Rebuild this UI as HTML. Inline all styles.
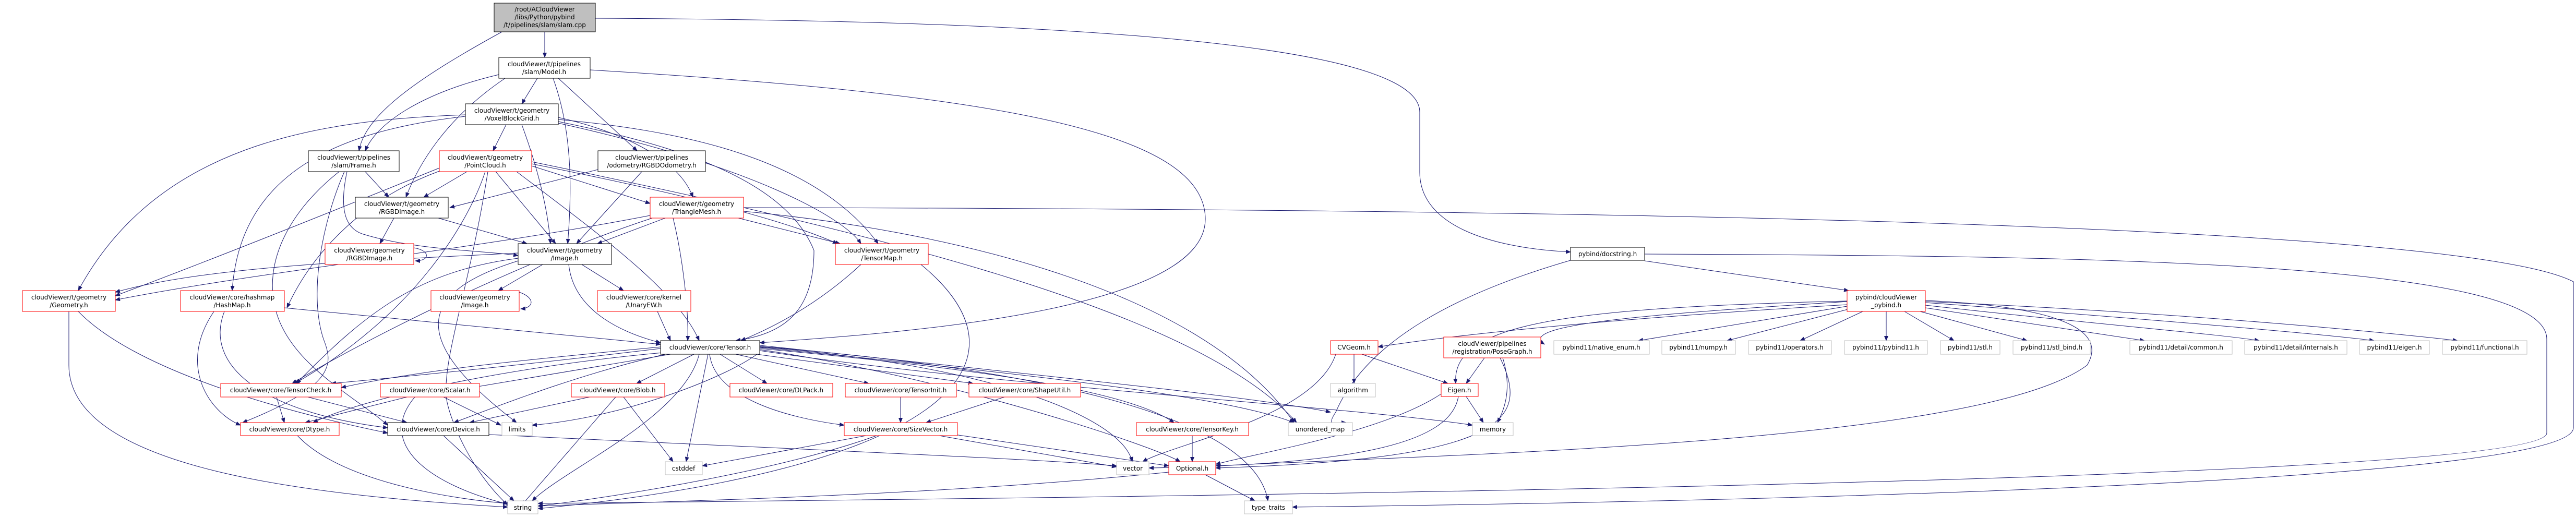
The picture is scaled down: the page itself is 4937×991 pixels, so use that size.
<!DOCTYPE html>
<html><head><meta charset="utf-8"><style>
html,body{margin:0;padding:0;background:#fff;}
svg{display:block;}
text{font-family:"DejaVu Sans","Liberation Sans",sans-serif;font-size:12px;fill:#000;text-anchor:middle;}
.b{fill:#fff;stroke:#000;stroke-width:1}
.r{fill:#fff;stroke:#f00;stroke-width:1}
.g{fill:#fff;stroke:#bfbfbf;stroke-width:1}
.e{fill:none;stroke:#191970;stroke-width:1;marker-end:url(#a)}
</style></head><body>
<svg width="4937" height="991" viewBox="0 0 4937 991" xmlns="http://www.w3.org/2000/svg">
<defs><marker id="a" markerWidth="10" markerHeight="8" refX="9" refY="4" orient="auto" markerUnits="userSpaceOnUse"><path d="M0,0 L10,4 L0,8 z" fill="#191970"/></marker></defs>
<g>
<!-- slam.cpp -->
<path class="e" d="M1044,61 L1044,110"/>
<path class="e" d="M962,61 C800,150 700,220 688,289"/>
<path class="e" d="M1141,35 C2300,40 2721,110 2721,215 L2721,330 C2721,430 2850,475 3010,483"/>
<!-- Model -->
<path class="e" d="M1030,150 L1000,199"/>
<path class="e" d="M956,143 C800,180 720,240 700,289"/>
<path class="e" d="M968,150 C850,230 800,320 778,378"/>
<path class="e" d="M1060,150 C1100,260 1095,380 1088,467"/>
<path class="e" d="M1070,150 L1221,289"/>
<path class="e" d="M1131,134 C1900,180 2310,250 2310,420 C2310,600 1700,640 1456,657"/>
<!-- VoxelBlockGrid -->
<path class="e" d="M970,239 L945,289"/>
<path class="e" d="M1000,239 C1030,320 1050,400 1055,467"/>
<path class="e" d="M892,220 C600,230 300,280 150,557"/>
<path class="e" d="M892,223 C650,250 460,330 445,557"/>
<path class="e" d="M1070,225 C1180,250 1300,300 1328,378"/>
<path class="e" d="M1070,229 C1300,250 1560,300 1683,467"/>
<path class="e" d="M1070,233 C1250,270 1500,330 1560,480 C1560,600 1500,640 1410,653"/>
<path class="e" d="M1070,236 C1450,320 1620,420 1650,467"/>
<!-- Frame -->
<path class="e" d="M700,329 L745,378"/>
<path class="e" d="M665,329 C650,400 660,440 700,450 C800,480 930,480 993,490"/>
<path class="e" d="M660,329 C620,420 590,560 620,650 C640,700 640,740 465,810"/>
<path class="e" d="M650,329 C560,400 500,500 530,600 C560,700 680,760 743,815"/>
<!-- PointCloud -->
<path class="e" d="M895,329 L812,378"/>
<path class="e" d="M950,329 L1065,467"/>
<path class="e" d="M1019,318 L1246,390"/>
<path class="e" d="M1019,314 C1300,370 1500,420 1605,467"/>
<path class="e" d="M990,329 C1150,450 1300,560 1340,653"/>
<path class="e" d="M842,322 C600,420 400,500 221,567"/>
<path class="e" d="M842,328 C700,380 600,480 550,590"/>
<path class="e" d="M930,329 C900,420 800,600 565,735"/>
<path class="e" d="M935,329 C900,550 850,680 855,760 C860,800 900,900 973,968"/>
<path class="e" d="M1019,310 C1700,450 2300,600 2485,810"/>
<!-- RGBDOdom -->
<path class="e" d="M1146,325 L862,398"/>
<path class="e" d="M1230,329 L1105,467"/>
<!-- t/RGBDImage -->
<path class="e" d="M755,418 L728,467"/>
<path class="e" d="M840,418 L1010,467"/>
<!-- g/RGBDImage self -->
<path class="e" d="M793,475 C825,480 825,500 796,500"/>
<!-- TriMesh -->
<path class="e" d="M1275,418 L1145,467"/>
<path class="e" d="M1415,418 L1610,467"/>
<path class="e" d="M1290,418 C1310,500 1320,600 1318,653"/>
<path class="e" d="M1246,413 C900,480 500,520 221,575"/>
<path class="e" d="M1250,418 C1000,500 700,650 560,735"/>
<path class="e" d="M1425,398 C2800,400 4700,420 4932,540 L4932,820 C4932,920 3500,960 2477,972"/>
<path class="e" d="M1425,405 C1800,440 2300,550 2480,810"/>
<!-- docstring -->
<path class="e" d="M3152,487 C4000,490 4881,500 4881,650 L4881,830 C4881,920 2500,950 1031,965"/>
<path class="e" d="M3152,500 L3543,557"/>
<path class="e" d="M3010,499 C2800,560 2620,650 2560,790 C2540,820 2560,810 2580,810"/>
<!-- pybind -->
<path class="e" d="M3540,578 C3200,600 2900,620 2960,660"/>
<path class="e" d="M3540,584 C3100,610 2800,640 2641,665"/>
<path class="e" d="M3540,577 C3000,590 2780,620 2790,735"/>
<path class="e" d="M3540,587 L3140,653"/>
<path class="e" d="M3545,592 L3310,653"/>
<path class="e" d="M3570,597 L3450,653"/>
<path class="e" d="M3615,597 L3615,653"/>
<path class="e" d="M3650,597 L3745,653"/>
<path class="e" d="M3680,597 L3885,653"/>
<path class="e" d="M3690,590 L4110,653"/>
<path class="e" d="M3690,585 C4000,620 4250,640 4330,653"/>
<path class="e" d="M3690,580 C4100,610 4450,640 4550,653"/>
<path class="e" d="M3690,578 C4200,600 4600,640 4710,653"/>
<path class="e" d="M3690,576 C4000,590 4030,650 4000,700 C3800,850 2800,870 2330,893"/>
<!-- Tensor -->
<path class="e" d="M1266,665 C1000,690 800,710 654,743"/>
<path class="e" d="M1266,668 C1000,700 800,720 635,735"/>
<path class="e" d="M1285,679 L910,742"/>
<path class="e" d="M1330,679 L1220,735"/>
<path class="e" d="M1380,679 L1470,735"/>
<path class="e" d="M1410,679 L1665,735"/>
<path class="e" d="M1450,679 L1865,735"/>
<path class="e" d="M1360,679 C1370,760 1500,800 1618,815"/>
<path class="e" d="M1275,679 C1100,720 950,780 870,810"/>
<path class="e" d="M1270,676 C1000,700 700,760 600,810"/>
<path class="e" d="M1357,679 L1315,885"/>
<path class="e" d="M1340,679 C1310,800 1080,900 1020,960"/>
<path class="e" d="M1456,665 C1900,700 2150,800 2170,885"/>
<path class="e" d="M1456,662 C2000,720 2400,760 2550,790"/>
<path class="e" d="M1456,666 C2000,720 2350,760 2480,810"/>
<path class="e" d="M1456,668 C1800,700 2150,740 2250,810"/>
<path class="e" d="M1456,670 C1800,720 2200,850 2262,885"/>
<path class="e" d="M1456,672 C1900,740 2600,780 2822,815"/>
<path class="e" d="M1456,664 C1900,700 2400,780 2430,960"/>
<path class="e" d="M1456,675 C1400,720 1200,800 1020,815"/>
<!-- row2 -->
<path class="e" d="M545,590 L1266,660"/>
<path class="e" d="M410,597 C340,700 400,790 461,815"/>
<path class="e" d="M430,597 C390,700 500,790 743,820"/>
<path class="e" d="M132,597 L132,700 C132,900 600,950 973,972"/>
<path class="e" d="M150,597 C250,700 500,780 743,830"/>
<path class="e" d="M995,560 C1025,570 1025,590 998,592"/>
<path class="e" d="M1260,597 L1285,653"/>
<path class="e" d="M1650,507 C1550,600 1450,640 1420,653"/>
<path class="e" d="M1765,507 C2000,700 1800,900 1031,975"/>
<!-- t/Image -->
<path class="e" d="M1040,507 L955,557"/>
<path class="e" d="M1115,507 L1195,557"/>
<path class="e" d="M1090,507 C1100,600 1200,640 1266,657"/>
<path class="e" d="M993,495 C800,520 700,600 568,735"/>
<path class="e" d="M993,485 C700,500 400,510 221,560"/>
<path class="e" d="M993,500 C800,560 780,650 990,810"/>
<!-- row3 -->
<path class="e" d="M530,761 L545,810"/>
<path class="e" d="M590,761 L780,810"/>
<path class="e" d="M780,761 L585,810"/>
<path class="e" d="M850,761 L960,815"/>
<path class="e" d="M795,761 C720,850 820,930 980,968"/>
<path class="e" d="M1130,761 L900,810"/>
<path class="e" d="M1180,761 L1000,968"/>
<path class="e" d="M1195,761 L1290,885"/>
<path class="e" d="M1726,761 L1726,810"/>
<path class="e" d="M1925,761 L1775,810"/>
<path class="e" d="M2595,679 L2595,735"/>
<path class="e" d="M2610,679 L2775,735"/>
<path class="e" d="M2560,679 C2520,800 2250,850 2190,885"/>
<path class="e" d="M2845,686 L2810,735"/>
<path class="e" d="M2880,686 C2900,750 2880,790 2870,810"/>
<path class="e" d="M2875,686 C2930,800 2900,880 2330,897"/>
<path class="e" d="M2810,760 L2843,810"/>
<path class="e" d="M2795,760 C2780,850 2600,890 2202,897"/>
<path class="e" d="M2762,755 C2650,830 2400,870 2330,890"/>
<!-- row4 -->
<path class="e" d="M1660,835 L1346,893"/>
<path class="e" d="M1680,835 C1500,900 1200,950 1031,970"/>
<path class="e" d="M1800,835 L2140,895"/>
<path class="e" d="M1830,833 L2240,893"/>
<path class="e" d="M2285,835 L2285,885"/>
<path class="e" d="M2310,910 L2405,960"/>
<path class="e" d="M2240,905 C1800,950 1300,960 1031,970"/>
<path class="e" d="M850,835 L985,960"/>
<path class="e" d="M937,833 C1500,860 2000,880 2140,893"/>
<path class="e" d="M570,835 C650,920 850,955 973,965"/>
</g>
<g>
<rect x="947" y="6" width="194" height="55" fill="#bfbfbf" stroke="#000"/>
<text x="1044" y="22">/root/ACloudViewer</text><text x="1044" y="37">/libs/Python/pybind</text><text x="1044" y="52">/t/pipelines/slam/slam.cpp</text>
<rect class="b" x="956" y="110" width="175" height="40"/><text x="1043" y="127">cloudViewer/t/pipelines</text><text x="1043" y="142">/slam/Model.h</text>
<rect class="b" x="892" y="199" width="178" height="40"/><text x="981" y="216">cloudViewer/t/geometry</text><text x="981" y="231">/VoxelBlockGrid.h</text>
<rect class="b" x="591" y="289" width="174" height="40"/><text x="678" y="306">cloudViewer/t/pipelines</text><text x="678" y="321">/slam/Frame.h</text>
<rect class="r" x="842" y="289" width="177" height="40"/><text x="930" y="306">cloudViewer/t/geometry</text><text x="930" y="321">/PointCloud.h</text>
<rect class="b" x="1146" y="289" width="206" height="40"/><text x="1249" y="306">cloudViewer/t/pipelines</text><text x="1249" y="321">/odometry/RGBDOdometry.h</text>
<rect class="b" x="681" y="378" width="178" height="40"/><text x="770" y="395">cloudViewer/t/geometry</text><text x="770" y="410">/RGBDImage.h</text>
<rect class="r" x="1246" y="378" width="179" height="40"/><text x="1335" y="395">cloudViewer/t/geometry</text><text x="1335" y="410">/TriangleMesh.h</text>
<rect class="r" x="623" y="467" width="170" height="40"/><text x="708" y="484">cloudViewer/geometry</text><text x="708" y="499">/RGBDImage.h</text>
<rect class="b" x="993" y="467" width="179" height="40"/><text x="1082" y="484">cloudViewer/t/geometry</text><text x="1082" y="499">/Image.h</text>
<rect class="r" x="1601" y="467" width="178" height="40"/><text x="1690" y="484">cloudViewer/t/geometry</text><text x="1690" y="499">/TensorMap.h</text>
<rect class="b" x="3010" y="474" width="142" height="25"/><text x="3081" y="491">pybind/docstring.h</text>
<rect class="r" x="43" y="557" width="178" height="40"/><text x="132" y="574">cloudViewer/t/geometry</text><text x="132" y="589">/Geometry.h</text>
<rect class="r" x="346" y="557" width="199" height="40"/><text x="445" y="574">cloudViewer/core/hashmap</text><text x="445" y="589">/HashMap.h</text>
<rect class="r" x="826" y="557" width="169" height="40"/><text x="910" y="574">cloudViewer/geometry</text><text x="910" y="589">/Image.h</text>
<rect class="r" x="1145" y="557" width="179" height="40"/><text x="1234" y="574">cloudViewer/core/kernel</text><text x="1234" y="589">/UnaryEW.h</text>
<rect class="r" x="3540" y="557" width="150" height="40"/><text x="3615" y="574">pybind/cloudViewer</text><text x="3615" y="589">_pybind.h</text>
<rect class="b" x="1266" y="653" width="190" height="26"/><text x="1361" y="670">cloudViewer/core/Tensor.h</text>
<rect class="r" x="2550" y="653" width="91" height="26"/><text x="2595" y="670">CVGeom.h</text>
<rect class="r" x="2767" y="646" width="186" height="40"/><text x="2860" y="663">cloudViewer/pipelines</text><text x="2860" y="678">/registration/PoseGraph.h</text>
<rect class="g" x="2978" y="653" width="183" height="26"/><text x="3069" y="670">pybind11/native_enum.h</text>
<rect class="g" x="3185" y="653" width="141" height="26"/><text x="3255" y="670">pybind11/numpy.h</text>
<rect class="g" x="3351" y="653" width="159" height="26"/><text x="3430" y="670">pybind11/operators.h</text>
<rect class="g" x="3535" y="653" width="159" height="26"/><text x="3614" y="670">pybind11/pybind11.h</text>
<rect class="g" x="3719" y="653" width="114" height="26"/><text x="3776" y="670">pybind11/stl.h</text>
<rect class="g" x="3858" y="653" width="148" height="26"/><text x="3932" y="670">pybind11/stl_bind.h</text>
<rect class="g" x="4082" y="653" width="196" height="26"/><text x="4180" y="670">pybind11/detail/common.h</text>
<rect class="g" x="4302" y="653" width="196" height="26"/><text x="4400" y="670">pybind11/detail/internals.h</text>
<rect class="g" x="4522" y="653" width="134" height="26"/><text x="4589" y="670">pybind11/eigen.h</text>
<rect class="g" x="4681" y="653" width="162" height="26"/><text x="4762" y="670">pybind11/functional.h</text>
<rect class="r" x="423" y="735" width="231" height="26"/><text x="538" y="752">cloudViewer/core/TensorCheck.h</text>
<rect class="r" x="729" y="735" width="190" height="26"/><text x="824" y="752">cloudViewer/core/Scalar.h</text>
<rect class="r" x="1095" y="735" width="179" height="26"/><text x="1184" y="752">cloudViewer/core/Blob.h</text>
<rect class="r" x="1399" y="735" width="197" height="26"/><text x="1497" y="752">cloudViewer/core/DLPack.h</text>
<rect class="r" x="1620" y="735" width="213" height="26"/><text x="1726" y="752">cloudViewer/core/TensorInit.h</text>
<rect class="r" x="1857" y="735" width="214" height="26"/><text x="1964" y="752">cloudViewer/core/ShapeUtil.h</text>
<rect class="g" x="2550" y="735" width="86" height="26"/><text x="2593" y="752">algorithm</text>
<rect class="r" x="2762" y="735" width="71" height="25"/><text x="2797" y="752">Eigen.h</text>
<rect class="r" x="461" y="810" width="189" height="25"/><text x="555" y="827">cloudViewer/core/Dtype.h</text>
<rect class="b" x="743" y="810" width="194" height="25"/><text x="840" y="827">cloudViewer/core/Device.h</text>
<rect class="g" x="962" y="810" width="58" height="25"/><text x="991" y="827">limits</text>
<rect class="r" x="1618" y="810" width="217" height="25"/><text x="1726" y="827">cloudViewer/core/SizeVector.h</text>
<rect class="r" x="2178" y="810" width="215" height="25"/><text x="2285" y="827">cloudViewer/core/TensorKey.h</text>
<rect class="g" x="2469" y="810" width="123" height="25"/><text x="2530" y="827">unordered_map</text>
<rect class="g" x="2822" y="810" width="78" height="25"/><text x="2861" y="827">memory</text>
<rect class="g" x="1275" y="885" width="71" height="25"/><text x="1310" y="902">cstddef</text>
<rect class="g" x="2140" y="885" width="62" height="25"/><text x="2171" y="902">vector</text>
<rect class="r" x="2240" y="885" width="90" height="25"/><text x="2285" y="902">Optional.h</text>
<rect class="g" x="973" y="960" width="58" height="25"/><text x="1002" y="977">string</text>
<rect class="g" x="2385" y="960" width="92" height="25"/><text x="2431" y="977">type_traits</text>
</g>
</svg>
</body></html>
